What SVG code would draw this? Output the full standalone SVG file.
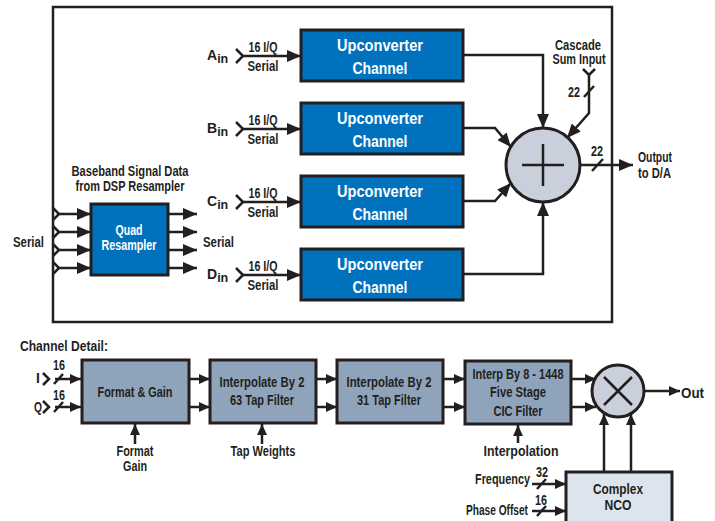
<svg xmlns="http://www.w3.org/2000/svg" width="715" height="521" viewBox="0 0 715 521">
<defs>
<style>
text{font-family:"Liberation Sans",Arial,sans-serif;font-weight:bold;fill:#231f20;font-size:14px}
.w{fill:#fff}
.c{text-anchor:middle}
.e{text-anchor:end}
.u{font-size:16.5px}
.ln{fill:none;stroke:#231f20;stroke-width:2.5}
.ar{fill:none;stroke:#231f20;stroke-width:2.5;marker-end:url(#ah)}
.as{fill:none;stroke:#231f20;stroke-width:2.5;marker-end:url(#as)}
.blue{fill:#0071bd;stroke:#231f20;stroke-width:3}
.gb{fill:#8fa4ba;stroke:#231f20;stroke-width:3}
</style>
<marker id="ah" viewBox="0 0 14 12" refX="14" refY="6" markerWidth="14" markerHeight="12" markerUnits="userSpaceOnUse" orient="auto"><path d="M0,0 L14,6 L0,12 z" fill="#231f20"/></marker>
<marker id="as" viewBox="0 0 11 10" refX="11" refY="5" markerWidth="11" markerHeight="10" markerUnits="userSpaceOnUse" orient="auto"><path d="M0,0 L11,5 L0,10 z" fill="#231f20"/></marker>
</defs>
<rect width="715" height="521" fill="#fff"/>
<rect id="frame" x="53" y="7" width="559" height="315" fill="none" stroke="#231f20" stroke-width="2.5"/>

<g id="up1"><rect class="blue" x="301" y="30" width="162" height="51"/><text class="w c u" x="380" y="51" textLength="86" lengthAdjust="spacingAndGlyphs">Upconverter</text><text class="w c u" x="380" y="74" textLength="55" lengthAdjust="spacingAndGlyphs">Channel</text></g>
<g id="up2"><rect class="blue" x="301" y="103" width="162" height="51"/><text class="w c u" x="380" y="124" textLength="86" lengthAdjust="spacingAndGlyphs">Upconverter</text><text class="w c u" x="380" y="147" textLength="55" lengthAdjust="spacingAndGlyphs">Channel</text></g>
<g id="up3"><rect class="blue" x="301" y="176" width="162" height="51"/><text class="w c u" x="380" y="197" textLength="86" lengthAdjust="spacingAndGlyphs">Upconverter</text><text class="w c u" x="380" y="220" textLength="55" lengthAdjust="spacingAndGlyphs">Channel</text></g>
<g id="up4"><rect class="blue" x="301" y="249" width="162" height="51"/><text class="w c u" x="380" y="270" textLength="86" lengthAdjust="spacingAndGlyphs">Upconverter</text><text class="w c u" x="380" y="293" textLength="55" lengthAdjust="spacingAndGlyphs">Channel</text></g>

<g id="sum"><circle cx="543" cy="165" r="37" fill="#c9d0db" stroke="#231f20" stroke-width="3"/><path d="M522,165 H564 M543,144 V186" class="ln" stroke-width="3"/></g>

<g id="quad"><rect class="blue" x="91" y="204" width="77" height="71"/><text class="w c" x="129" y="235" textLength="27" lengthAdjust="spacingAndGlyphs">Quad</text><text class="w c" x="129" y="250" textLength="55" lengthAdjust="spacingAndGlyphs">Resampler</text></g>

<g id="fmt"><rect class="gb" x="82" y="360" width="107" height="63"/><text class="c" x="135" y="397" font-size="14.5" textLength="75" lengthAdjust="spacingAndGlyphs">Format &amp; Gain</text></g>
<g id="int63"><rect class="gb" x="210" y="360" width="106" height="63"/><text class="c" x="262" y="387" font-size="14.5" textLength="85" lengthAdjust="spacingAndGlyphs">Interpolate By 2</text><text class="c" x="262" y="405" font-size="14.5" textLength="64" lengthAdjust="spacingAndGlyphs">63 Tap Filter</text></g>
<g id="int31"><rect class="gb" x="337" y="360" width="106" height="63"/><text class="c" x="389" y="387" font-size="14.5" textLength="85" lengthAdjust="spacingAndGlyphs">Interpolate By 2</text><text class="c" x="389" y="405" font-size="14.5" textLength="64" lengthAdjust="spacingAndGlyphs">31 Tap Filter</text></g>
<g id="cic"><rect class="gb" x="465" y="361" width="106" height="63"/><text class="c" x="518" y="379" font-size="14.5" textLength="91" lengthAdjust="spacingAndGlyphs">Interp By 8 - 1448</text><text class="c" x="518" y="397" font-size="14.5" textLength="56" lengthAdjust="spacingAndGlyphs">Five Stage</text><text class="c" x="518" y="416" font-size="14.5" textLength="49" lengthAdjust="spacingAndGlyphs">CIC Filter</text></g>
<g id="mixer"><circle cx="618" cy="391" r="26" fill="#c9d0db" stroke="#231f20" stroke-width="3"/><path d="M604,377 L632,405 M632,377 L604,405" class="ln"/></g>
<g id="nco"><rect x="566" y="472" width="106" height="70" fill="#dce5ed" stroke="#231f20" stroke-width="3"/><text class="c" x="618" y="494" textLength="50" lengthAdjust="spacingAndGlyphs">Complex</text><text class="c" x="618" y="510" textLength="27" lengthAdjust="spacingAndGlyphs">NCO</text></g>

<g id="labels">
<text x="207" y="60" font-size="15.5">A<tspan font-size="12.5" dy="3">in</tspan></text>
<text x="207" y="133" font-size="15.5">B<tspan font-size="12.5" dy="3">in</tspan></text>
<text x="207" y="206" font-size="15.5">C<tspan font-size="12.5" dy="3">in</tspan></text>
<text x="207" y="279" font-size="15.5">D<tspan font-size="12.5" dy="3">in</tspan></text>
<text class="c" x="263" y="52" textLength="29" lengthAdjust="spacingAndGlyphs">16 I/Q</text><text class="c" x="263" y="71" textLength="31" lengthAdjust="spacingAndGlyphs">Serial</text>
<text class="c" x="263" y="125" textLength="29" lengthAdjust="spacingAndGlyphs">16 I/Q</text><text class="c" x="263" y="144" textLength="31" lengthAdjust="spacingAndGlyphs">Serial</text>
<text class="c" x="263" y="198" textLength="29" lengthAdjust="spacingAndGlyphs">16 I/Q</text><text class="c" x="263" y="217" textLength="31" lengthAdjust="spacingAndGlyphs">Serial</text>
<text class="c" x="263" y="271" textLength="29" lengthAdjust="spacingAndGlyphs">16 I/Q</text><text class="c" x="263" y="290" textLength="31" lengthAdjust="spacingAndGlyphs">Serial</text>
<text class="c" x="578" y="50" textLength="46" lengthAdjust="spacingAndGlyphs">Cascade</text>
<text class="c" x="579" y="64" textLength="53" lengthAdjust="spacingAndGlyphs">Sum Input</text>
<text class="c" x="574" y="97" font-size="13" textLength="12" lengthAdjust="spacingAndGlyphs">22</text>
<text class="c" x="597" y="156" font-size="13" textLength="12" lengthAdjust="spacingAndGlyphs">22</text>
<text x="638" y="162" textLength="34" lengthAdjust="spacingAndGlyphs">Output</text>
<text x="638" y="178" textLength="33" lengthAdjust="spacingAndGlyphs">to D/A</text>
<text class="c" x="130" y="176" textLength="117" lengthAdjust="spacingAndGlyphs">Baseband Signal Data</text>
<text class="c" x="130" y="191" textLength="109" lengthAdjust="spacingAndGlyphs">from DSP Resampler</text>
<text x="13" y="247" textLength="31" lengthAdjust="spacingAndGlyphs">Serial</text>
<text x="203" y="247" textLength="31" lengthAdjust="spacingAndGlyphs">Serial</text>
<text x="20" y="351" textLength="88" lengthAdjust="spacingAndGlyphs">Channel Detail:</text>
<text x="36" y="383">I</text>
<text x="34" y="412" textLength="8" lengthAdjust="spacingAndGlyphs">Q</text>
<text class="c" x="59" y="370" font-size="13" textLength="12" lengthAdjust="spacingAndGlyphs">16</text>
<text class="c" x="59" y="400" font-size="13" textLength="12" lengthAdjust="spacingAndGlyphs">16</text>
<text class="c" x="135" y="456" font-size="13" textLength="37" lengthAdjust="spacingAndGlyphs">Format</text>
<text class="c" x="135" y="471" font-size="13" textLength="24" lengthAdjust="spacingAndGlyphs">Gain</text>
<text class="c" x="263" y="456" textLength="65" lengthAdjust="spacingAndGlyphs">Tap Weights</text>
<text class="c" x="521" y="456" textLength="75" lengthAdjust="spacingAndGlyphs">Interpolation</text>
<text x="681" y="398" textLength="23" lengthAdjust="spacingAndGlyphs">Out</text>
<text class="e" x="530" y="484" textLength="55" lengthAdjust="spacingAndGlyphs">Frequency</text>
<text class="c" x="542" y="477" font-size="12.5" textLength="12" lengthAdjust="spacingAndGlyphs">32</text>
<text class="e" x="528" y="515" textLength="62" lengthAdjust="spacingAndGlyphs">Phase Offset</text>
<text class="c" x="541" y="505" font-size="12.5" textLength="12" lengthAdjust="spacingAndGlyphs">16</text>
</g>

<g id="connectors">
<path class="ln" d="M236,49 L243,56 L236,63 M236,122 L243,129 L236,136 M236,195 L243,202 L236,209 M236,268 L243,275 L236,282"/>
<path class="ar" d="M242,56 H301"/>
<path class="ar" d="M242,129 H301"/>
<path class="ar" d="M242,202 H301"/>
<path class="ar" d="M242,275 H301"/>
<path class="ar" d="M463,55 H543 V128"/>
<path class="ar" d="M463,128 H495 L511,147"/>
<path class="ar" d="M463,201 H495 L511,183"/>
<path class="ar" d="M463,274 H543 V202"/>
<path class="ln" d="M583,69 L589,75 L595,69"/>
<path class="ar" d="M589,74 V113 L567,138"/>
<path class="ln" d="M584,97 L594,86"/>
<path class="ar" d="M580,165 H633"/>
<path class="ln" d="M592,171 L603,159"/>
<path class="ln" d="M53,208 L59,214 L53,220 M53,226 L59,232 L53,238 M53,244 L59,250 L53,256 M53,262 L59,268 L53,274"/>
<path class="ar" d="M58,214 H91"/>
<path class="ar" d="M58,232 H91"/>
<path class="ar" d="M58,250 H91"/>
<path class="ar" d="M58,268 H91"/>
<path class="ar" d="M168,214 H197"/>
<path class="ar" d="M168,232 H197"/>
<path class="ar" d="M168,250 H197"/>
<path class="ar" d="M168,268 H197"/>
<path class="ln" d="M43,373 L49,379 L43,385 M43,401 L49,407 L43,413"/>
<path class="as" d="M55,379 H81"/>
<path class="as" d="M55,407 H81"/>
<path class="ln" d="M54,384 L63,374 M54,412 L63,402"/>
<path class="as" d="M189,379 H210"/>
<path class="as" d="M189,407 H210"/>
<path class="as" d="M316,379 H337"/>
<path class="as" d="M316,407 H337"/>
<path class="as" d="M443,379 H465"/>
<path class="as" d="M443,407 H465"/>
<path class="as" d="M571,379 H596"/>
<path class="as" d="M571,407 H596"/>
<path class="as" d="M644,391 H680"/>
<path class="as" d="M135,444 V424"/>
<path class="as" d="M262,444 V424"/>
<path class="as" d="M518,443 V425"/>
<path class="as" d="M604,472 V414"/>
<path class="as" d="M631,472 V414"/>
<path class="as" d="M532,484 H566"/>
<path class="as" d="M532,511 H566"/>
<path class="ln" d="M537,489 L546,479 M537,516 L546,506"/>
</g>
</svg>
